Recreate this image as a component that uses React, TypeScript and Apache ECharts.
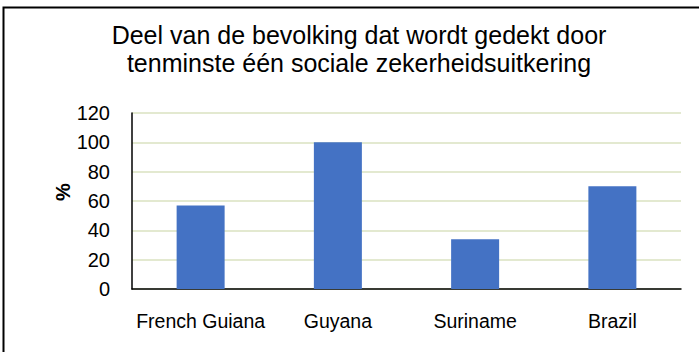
import React, { useEffect, useRef } from "react";
import * as echarts from "echarts";

const categories = ["French Guiana", "Guyana", "Suriname", "Brazil"];
const values = [57, 100, 34, 70];
const titleLines = ["Deel van de bevolking dat wordt gedekt door", "tenminste één sociale zekerheidsuitkering"];
const yAxisName = "%";

const FONT = "Liberation Sans, Arial, sans-serif";

export default function App() {
  const ref = useRef<HTMLDivElement>(null);
  useEffect(() => {
    document.body.style.margin = "0";
    const chart = echarts.init(ref.current!, null, { renderer: "svg" });
    chart.setOption({
      animation: false,
      backgroundColor: "#ffffff",
      textStyle: { fontFamily: FONT },
      graphic: [
        {
          type: "rect",
          shape: { x: 3.5, y: 7.5, width: 800, height: 500 },
          style: { fill: "none", stroke: "#000", lineWidth: 2 },
          silent: true,
        },
        {
          type: "text",
          x: 359,
          y: 21,
          style: {
            text: titleLines.join("\n"),
            font: `25px ${FONT}`,
            fill: "#000",
            align: "center",
            verticalAlign: "top",
            lineHeight: 28,
          },
        },
        {
          type: "text",
          x: 63,
          y: 192,
          rotation: Math.PI / 2,
          style: {
            text: yAxisName,
            font: `bold 20px ${FONT}`,
            fill: "#000",
            align: "center",
            verticalAlign: "middle",
          },
        },
      ],
      grid: { left: 132, right: 18, top: 113, bottom: 63 },
      xAxis: {
        type: "category",
        data: categories,
        axisLine: { lineStyle: { color: "#000", width: 1.5 } },
        axisTick: { show: false },
        axisLabel: { color: "#000", fontSize: 19.5, margin: 22, interval: 0 },
      },
      yAxis: {
        type: "value",
        min: 0,
        max: 120,
        interval: 20,
        axisLine: { show: true, lineStyle: { color: "#000", width: 1.5 } },
        axisTick: { show: false },
        axisLabel: { color: "#000", fontSize: 20, margin: 22 },
        splitLine: { lineStyle: { color: "#E3E9D0", width: 2 } },
      },
      series: [
        {
          type: "bar",
          data: values,
          barWidth: 48,
          itemStyle: { color: "#4472C4" },
        },
      ],
    });
    return () => chart.dispose();
  }, []);
  return <div ref={ref} style={{ position: "absolute", left: 0, top: 0, width: 699, height: 352 }} />;
}
